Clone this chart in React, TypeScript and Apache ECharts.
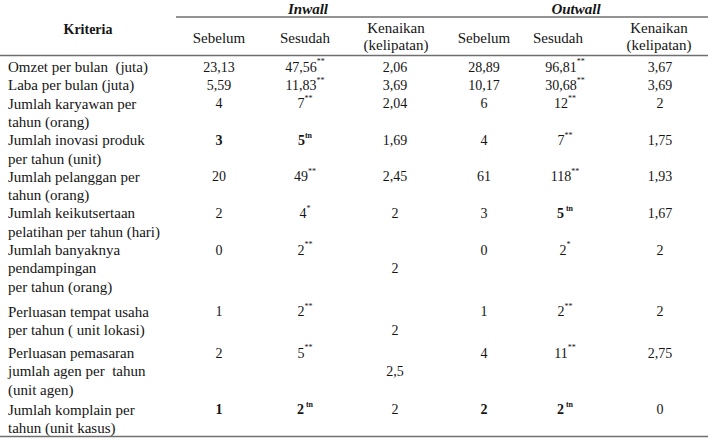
import { useEffect, useRef } from 'react';
import * as echarts from 'echarts';

// ---------- data ----------
const criteria = [
  'Omzet per bulan  (juta)',
  'Laba per bulan (juta)',
  'Jumlah karyawan per\ntahun (orang)',
  'Jumlah inovasi produk\nper tahun (unit)',
  'Jumlah pelanggan per\ntahun (orang)',
  'Jumlah keikutsertaan\npelatihan per tahun (hari)',
  'Jumlah banyaknya\npendampingan\nper tahun (orang)',
  'Perluasan tempat usaha\nper tahun ( unit lokasi)',
  'Perluasan pemasaran\njumlah agen per  tahun\n(unit agen)',
  'Jumlah komplain per\ntahun (unit kasus)',
];
const inwallBefore = ['23,13', '5,59', '4', '3', '20', '2', '0', '1', '2', '1'];
const inwallAfter = ['47,56', '11,83', '7', '5', '49', '4', '2', '2', '5', '2'];
const inwallSig = ['**', '**', '**', 'tn', '**', '*', '**', '**', '**', ' tn'];
const inwallRise = ['2,06', '3,69', '2,04', '1,69', '2,45', '2', '2', '2', '2,5', '2'];
const outwallBefore = ['28,89', '10,17', '6', '4', '61', '3', '0', '1', '4', '2'];
const outwallAfter = ['96,81', '30,68', '12', '7', '118', '5', '2', '2', '11', '2'];
const outwallSig = ['**', '**', '**', '**', '**', ' tn', '*', '**', '**', ' tn'];
const outwallRise = ['3,67', '3,69', '2', '1,75', '1,93', '1,67', '2', '2', '2,75', '0'];
// emphasis (bold) flags
const inwallBeforeBold = [false, false, false, true, false, false, false, false, false, true];
const inwallAfterBold = [false, false, false, true, false, false, false, false, false, true];
const outwallBeforeBold = [false, false, false, false, false, false, false, false, false, true];
const outwallAfterBold = [false, false, false, false, false, true, false, false, false, true];
const groupLabels = ['Inwall', 'Outwall'];
const subHeaders = ['Sebelum', 'Sesudah', 'Kenaikan\n(kelipatan)'];
const criteriaHeader = 'Kriteria';

// ---------- layout ----------
const W = 716;
const H = 440;
const FONT = '"Liberation Serif", "Times New Roman", serif';
const TEXT = '#151515';
const RULE = '#6f6f6f';
const LINE_H = 18.3;
const FIRST_LINE_Y = 67;
const ROW_EXTRA_AFTER = [0, 0, 0, 0, 0, 0, 7, 4.5, 2, 0];
const INRISE_LINE = [0, 0, 0, 0, 0, 0, 1, 1, 1, 0];
const CRIT_X = 8;
const COLS_IN = [219, 305, 395];
const COLS_OUT = [484, 565, 660];
const HEAD_IN = [219, 305, 396];
const HEAD_OUT = [484, 558, 659];
const GROUP_X = [308, 576];

const rich = {
  n: { fontFamily: FONT, fontSize: 14, lineHeight: LINE_H, fill: TEXT, color: TEXT },
  nb: { fontFamily: FONT, fontSize: 14, fontWeight: 'bold', lineHeight: LINE_H, fill: TEXT, color: TEXT },
  s: { fontFamily: FONT, fontSize: 8, lineHeight: 10, verticalAlign: 'top', fill: TEXT, color: TEXT },
  sb: { fontFamily: FONT, fontSize: 8, fontWeight: 'bold', lineHeight: 10, verticalAlign: 'top', fill: TEXT, color: TEXT },
};

function valText(v: string, sig: string | null, bold: boolean) {
  let t = `{${bold ? 'nb' : 'n'}|${v}}`;
  if (sig) t += `{${bold ? 'sb' : 's'}|${sig}}`;
  return t;
}

function buildGraphics() {
  const els: any[] = [];
  const txt = (text: string, x: number, y: number, extra: any = {}) => ({
    type: 'text',
    style: {
      text, x, y,
      align: 'center', verticalAlign: 'middle',
      fontFamily: FONT, fontSize: 15, fill: TEXT,
      ...extra,
    },
  });

  // rules
  const line = (x1: number, y1: number, x2: number, y2: number) => ({
    type: 'line',
    shape: { x1, y1, x2, y2 },
    style: { stroke: RULE, lineWidth: 1.5 },
  });
  els.push(line(176, 17, 708, 17));
  els.push(line(0, 55.5, 708, 55.5));
  els.push(line(0, 436.5, 708, 436.5));

  // header
  els.push(txt(criteriaHeader, 88, 29, { fontWeight: 'bold', fontSize: 14 }));
  groupLabels.forEach((g, i) =>
    els.push(txt(g, GROUP_X[i], 9, { fontWeight: 'bold', fontStyle: 'italic' }))
  );
  [HEAD_IN, HEAD_OUT].forEach((cols) => {
    subHeaders.forEach((h, j) => {
      els.push(txt(h, cols[j], j === 2 ? 36.5 : 38, { lineHeight: 17 }));
    });
  });

  // body
  let y = FIRST_LINE_Y;
  criteria.forEach((c, i) => {
    const n = c.split('\n').length;
    const lineY = (k: number) => y + k * LINE_H;
    els.push(txt(c, CRIT_X, lineY(0) - LINE_H / 2, { align: 'left', verticalAlign: 'top', lineHeight: LINE_H }));
    const vt = (t: string, x: number, yy: number) => ({
      type: 'text',
      style: { text: t, x, y: yy, align: 'center', verticalAlign: 'middle', rich, fontFamily: FONT, fontSize: 14, fill: TEXT },
    });
    els.push(vt(valText(inwallBefore[i], null, inwallBeforeBold[i]), COLS_IN[0], lineY(0)));
    els.push(vt(valText(inwallAfter[i], inwallSig[i], inwallAfterBold[i]), COLS_IN[1], lineY(0)));
    els.push(vt(valText(inwallRise[i], null, false), COLS_IN[2], lineY(INRISE_LINE[i])));
    els.push(vt(valText(outwallBefore[i], null, outwallBeforeBold[i]), COLS_OUT[0], lineY(0)));
    els.push(vt(valText(outwallAfter[i], outwallSig[i], outwallAfterBold[i]), COLS_OUT[1], lineY(0)));
    els.push(vt(valText(outwallRise[i], null, false), COLS_OUT[2], lineY(0)));
    y += n * LINE_H + ROW_EXTRA_AFTER[i];
  });
  return els;
}

export default function App() {
  const ref = useRef<HTMLDivElement>(null);
  useEffect(() => {
    if (!ref.current) return;
    const chart = echarts.init(ref.current, null, { renderer: 'svg' });
    chart.setOption({
      animation: false,
      backgroundColor: '#ffffff',
      graphic: buildGraphics(),
    });
    return () => chart.dispose();
  }, []);
  return (
    <div
      ref={ref}
      style={{ position: 'absolute', left: 0, top: 0, width: W, height: H, background: '#fff' }}
    />
  );
}
